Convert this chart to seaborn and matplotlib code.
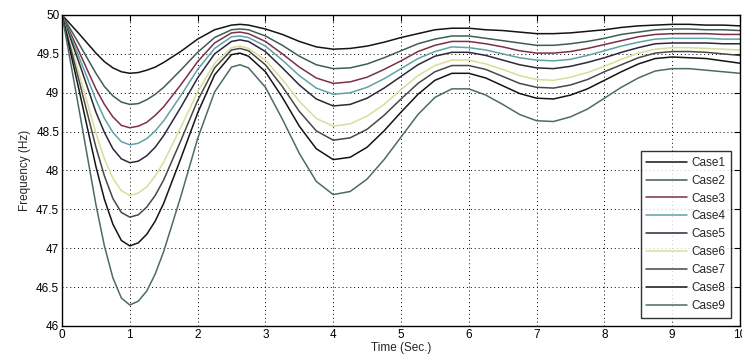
import numpy as np
import pandas as pd
import matplotlib
matplotlib.use("Agg")
import matplotlib.pyplot as plt
import seaborn as sns

# ---- data ----
time = [0, 0.25, 0.5, 0.625, 0.75, 0.875, 1.0, 1.125, 1.25, 1.375, 1.5, 1.75,
        2.0, 2.25, 2.5, 2.625,
        2.75, 3.0, 3.25, 3.5, 3.75, 4.0, 4.25, 4.5, 4.75, 5.0,
        5.25, 5.5, 5.75, 6.0, 6.25, 6.5, 6.75, 7.0, 7.25, 7.5,
        7.75, 8.0, 8.25, 8.5, 8.75, 9.0, 9.25, 9.5, 9.75, 10.0]

case1 = [50, 49.76, 49.51, 49.40, 49.32, 49.27, 49.25, 49.26, 49.29, 49.33, 49.39, 49.53,
         49.69, 49.81, 49.87, 49.88,
         49.87, 49.82, 49.75, 49.66, 49.59, 49.56, 49.57, 49.60, 49.65, 49.71,
         49.76, 49.81, 49.83, 49.83, 49.81, 49.80, 49.78, 49.76, 49.76, 49.77,
         49.79, 49.81, 49.84, 49.86, 49.87, 49.88, 49.88, 49.87, 49.87, 49.86]
case2 = [50, 49.63, 49.25, 49.08, 48.96, 48.88, 48.85, 48.86, 48.91, 48.98, 49.07, 49.29,
         49.52, 49.71, 49.81, 49.82,
         49.81, 49.73, 49.61, 49.47, 49.36, 49.31, 49.32, 49.37, 49.45, 49.54,
         49.63, 49.69, 49.73, 49.73, 49.70, 49.67, 49.64, 49.61, 49.61, 49.63,
         49.66, 49.70, 49.75, 49.78, 49.81, 49.82, 49.82, 49.81, 49.81, 49.80]
case3 = [50, 49.53, 49.05, 48.85, 48.69, 48.58, 48.55, 48.57, 48.62, 48.71, 48.82, 49.10,
         49.40, 49.64, 49.77, 49.78,
         49.76, 49.66, 49.50, 49.33, 49.19, 49.12, 49.14, 49.20, 49.30, 49.41,
         49.53, 49.61, 49.66, 49.66, 49.63, 49.59, 49.54, 49.51, 49.51, 49.53,
         49.57, 49.62, 49.67, 49.72, 49.75, 49.76, 49.76, 49.76, 49.75, 49.75]
case4 = [50, 49.46, 48.91, 48.67, 48.49, 48.37, 48.33, 48.35, 48.41, 48.51, 48.64, 48.96,
         49.30, 49.57, 49.72, 49.73,
         49.71, 49.60, 49.42, 49.22, 49.06, 48.98, 49.00, 49.07, 49.18, 49.31,
         49.44, 49.53, 49.59, 49.58, 49.55, 49.50, 49.45, 49.42, 49.41, 49.43,
         49.48, 49.54, 49.60, 49.65, 49.69, 49.70, 49.70, 49.70, 49.69, 49.69]
case5 = [50, 49.39, 48.75, 48.49, 48.28, 48.15, 48.10, 48.12, 48.19, 48.30, 48.45, 48.81,
         49.19, 49.50, 49.66, 49.68,
         49.66, 49.53, 49.32, 49.10, 48.92, 48.83, 48.85, 48.93, 49.06, 49.21,
         49.36, 49.47, 49.52, 49.52, 49.48, 49.42, 49.36, 49.32, 49.31, 49.34,
         49.39, 49.45, 49.52, 49.58, 49.63, 49.64, 49.64, 49.64, 49.63, 49.63]
case6 = [50, 49.25, 48.48, 48.15, 47.90, 47.74, 47.68, 47.71, 47.79, 47.93, 48.11, 48.55,
         49.01, 49.38, 49.58, 49.60,
         49.57, 49.42, 49.17, 48.89, 48.67, 48.57, 48.60, 48.70, 48.85, 49.04,
         49.22, 49.35, 49.42, 49.42, 49.37, 49.30, 49.22, 49.17, 49.16, 49.20,
         49.26, 49.34, 49.43, 49.51, 49.56, 49.58, 49.58, 49.57, 49.56, 49.55]
case7 = [50, 49.16, 48.30, 47.93, 47.64, 47.46, 47.40, 47.43, 47.53, 47.68, 47.88, 48.38,
         48.90, 49.32, 49.55, 49.57,
         49.54, 49.36, 49.08, 48.76, 48.51, 48.39, 48.42, 48.53, 48.71, 48.92,
         49.12, 49.27, 49.35, 49.35, 49.30, 49.21, 49.12, 49.07, 49.06, 49.10,
         49.17, 49.27, 49.36, 49.45, 49.51, 49.53, 49.53, 49.52, 49.50, 49.48]
case8 = [50, 49.04, 48.05, 47.63, 47.31, 47.10, 47.03, 47.07, 47.18, 47.35, 47.58, 48.15,
         48.74, 49.23, 49.49, 49.51,
         49.47, 49.27, 48.94, 48.57, 48.28, 48.14, 48.17, 48.30, 48.51, 48.75,
         48.98, 49.16, 49.25, 49.25, 49.19, 49.09, 48.99, 48.93, 48.92, 48.97,
         49.05, 49.16, 49.27, 49.37, 49.44, 49.46, 49.45, 49.44, 49.41, 49.38]
case9 = [50, 48.79, 47.56, 47.03, 46.62, 46.36, 46.27, 46.32, 46.45, 46.67, 46.96, 47.66,
         48.41, 49.01, 49.33, 49.36,
         49.32, 49.07, 48.66, 48.22, 47.86, 47.69, 47.73, 47.89, 48.14, 48.43,
         48.72, 48.94, 49.05, 49.05, 48.97, 48.85, 48.72, 48.64, 48.63, 48.69,
         48.79, 48.93, 49.07, 49.19, 49.28, 49.31, 49.31, 49.29, 49.27, 49.25]

case_names = ["Case1", "Case2", "Case3", "Case4", "Case5",
              "Case6", "Case7", "Case8", "Case9"]
case_values = [case1, case2, case3, case4, case5, case6, case7, case8, case9]

x_ticks = [0, 1, 2, 3, 4, 5, 6, 7, 8, 9, 10]
y_ticks = [46, 46.5, 47, 47.5, 48, 48.5, 49, 49.5, 50]
y_tick_labels = ["46", "46.5", "47", "47.5", "48", "48.5", "49", "49.5", "50"]

colors = ["#141414", "#3f5d54", "#7a3048", "#5fa2a6", "#2b2838",
          "#dcdc98", "#474747", "#141414", "#4d6a6a"]

# ---- build long-form table ----
rows = []
for name, vals in zip(case_names, case_values):
    for t, v in zip(time, vals):
        rows.append({"Time": t, "Frequency": v, "Case": name})
df = pd.DataFrame(rows)

sns.set_style("white")
plt.rcParams["font.family"] = ["Liberation Sans Narrow", "Liberation Sans", "DejaVu Sans"]

fig = plt.figure(figsize=(7.42, 3.64), dpi=100)
ax = fig.add_axes([0.0836, 0.1044, 0.9137, 0.8544])

sns.lineplot(data=df, x="Time", y="Frequency", hue="Case",
             palette=colors, hue_order=case_names, linewidth=1.1,
             ax=ax, legend=True)

ax.set_xlim(0, 10)
ax.set_ylim(46, 50)
ax.set_xticks(x_ticks)
ax.set_xticklabels([str(v) for v in x_ticks])
ax.set_yticks(y_ticks)
ax.set_yticklabels(y_tick_labels)
ax.grid(True, color="black", linestyle=(0, (1, 3)), linewidth=0.7)
ax.tick_params(direction="in", length=4, width=0.8, labelsize=8.5,
               top=True, right=True, colors="black", pad=2)
for s in ax.spines.values():
    s.set_color("black")
    s.set_linewidth(1.0)
ax.set_xlabel("Time (Sec.)", fontsize=8.5, labelpad=1)
ax.set_ylabel("Frequency (Hz)", fontsize=8.5, labelpad=4)

handles, labels = ax.get_legend_handles_labels()
leg = ax.legend(handles, labels, loc="lower right",
                bbox_to_anchor=(0.987, 0.026), fontsize=8.5,
                frameon=True, fancybox=False, handlelength=3.4,
                labelspacing=0.5, borderpad=0.5, handletextpad=0.4,
                borderaxespad=0)
leg.get_frame().set_edgecolor("black")
leg.get_frame().set_linewidth(1.0)
for line in leg.get_lines():
    line.set_linewidth(1.1)

fig.savefig("out.png", dpi=100)
